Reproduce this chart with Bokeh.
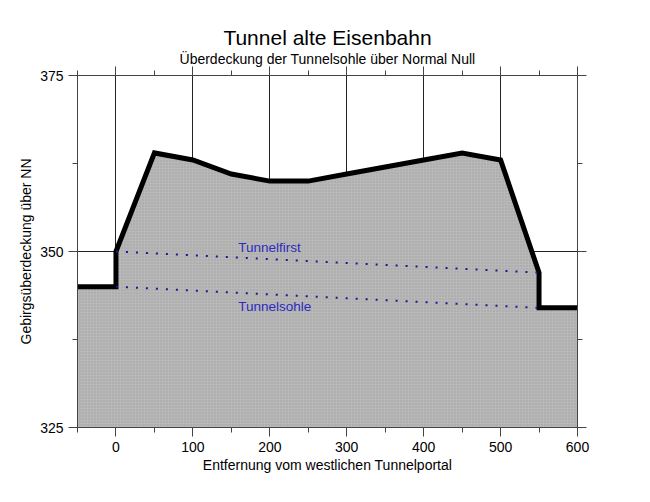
from bokeh.plotting import figure
from bokeh.models import (LinearAxis, SingleIntervalTicker, Range1d, Title, ColumnDataSource,
                          CustomJSTickFormatter)
from bokeh.core.properties import value
from bokeh.embed import file_html
from bokeh.resources import INLINE

# Ground surface profile (distance from western portal, height above NN)
dist = [-50, 0, 0, 50, 100, 150, 200, 250, 300, 350, 400, 450, 500, 550, 550, 600]
ground = [345, 345, 350, 364, 363, 361, 360, 360, 361, 362, 363, 364, 363, 347, 342, 342]

# Tunnel crown and floor
tunnel_x = [0, 550]
tunnel_first = [350, 347]
tunnel_sohle = [345, 342]

label_text = ["Tunnelfirst", "Tunnelsohle"]
label_x = [159, 159]
label_y = [350.5, 342.2]

base_level = 325
FONT = "Liberation Sans"

p = figure(width=634, height=486, frame_width=500, frame_height=352,
           x_range=Range1d(-50, 600), y_range=Range1d(325, 375),
           output_backend="svg", toolbar_location=None,
           min_border_left=77, min_border_right=57, min_border_top=75, min_border_bottom=59)

p.title.text = "Tunnel alte Eisenbahn"
p.title.text_font = FONT
p.title.text_font_size = "21px"
p.title.text_font_style = "normal"
p.title.align = "center"
p.title.text_color = "black"
p.title.standoff = 0
p.title.offset = 0

xt = SingleIntervalTicker(interval=100, num_minor_ticks=2)
yt = SingleIntervalTicker(interval=25, num_minor_ticks=2)

def style_axis(ax):
    ax.axis_line_color = "#444444"
    ax.major_tick_line_color = "#444444"
    ax.minor_tick_line_color = "#444444"
    ax.major_tick_out = 9
    ax.major_tick_in = 0
    ax.minor_tick_out = 5
    ax.minor_tick_in = 0
    ax.major_label_text_font = FONT
    ax.major_label_text_font_size = "14px"
    ax.major_label_text_color = "black"
    ax.axis_label_text_font = FONT
    ax.axis_label_text_font_size = "14px"
    ax.axis_label_text_font_style = "normal"
    ax.axis_label_text_color = "black"

p.xaxis.ticker = xt
p.yaxis.ticker = yt
p.xaxis.axis_label = "Entfernung vom westlichen Tunnelportal"
p.yaxis.axis_label = "Gebirgsüberdeckung über NN"
p.xaxis.axis_label_standoff = 2
p.yaxis.axis_label_standoff = 3
style_axis(p.xaxis[0])
style_axis(p.yaxis[0])

blank = CustomJSTickFormatter(code="return ''")
top = LinearAxis(ticker=SingleIntervalTicker(interval=100, num_minor_ticks=2), formatter=blank)
right = LinearAxis(ticker=SingleIntervalTicker(interval=25, num_minor_ticks=2), formatter=blank)
style_axis(top)
style_axis(right)
top.major_label_standoff = 0
right.major_label_standoff = 0
p.add_layout(top, "above")
p.add_layout(right, "right")

sub = Title(text="Überdeckung der Tunnelsohle über Normal Null", align="center",
            text_font=FONT, text_font_size="14px", text_font_style="normal", text_color="black",
            standoff=0)
p.add_layout(sub, "above")

p.xgrid.ticker = xt
p.ygrid.ticker = yt
p.xgrid.grid_line_color = "#222222"
p.ygrid.grid_line_color = "#222222"
p.xgrid.grid_line_width = 1
p.ygrid.grid_line_width = 1
p.outline_line_color = "#444444"

# filled rock body
patch_x = [dist[0]] + dist + [dist[-1]]
patch_y = [base_level] + ground + [base_level]
p.patch(patch_x, patch_y, fill_color="#b8b8b8", line_color=None,
        hatch_pattern="dot", hatch_color="#8c8c8c", hatch_scale=3, hatch_alpha=0.6)

p.line(dist, ground, line_color="black", line_width=5, line_join="miter")

p.line(tunnel_x, tunnel_first, line_color="#1a1a8c", line_width=2, line_dash="2 8")
p.line(tunnel_x, tunnel_sohle, line_color="#1a1a8c", line_width=2, line_dash="2 8")

src = ColumnDataSource(dict(x=label_x, y=label_y, t=label_text))
p.text(x="x", y="y", text="t", source=src, text_font=value(FONT), text_font_size="13.5px",
       text_color="#2b2bc0", text_baseline="alphabetic", text_align="left")

open("out.html", "w").write(file_html(p, INLINE))
